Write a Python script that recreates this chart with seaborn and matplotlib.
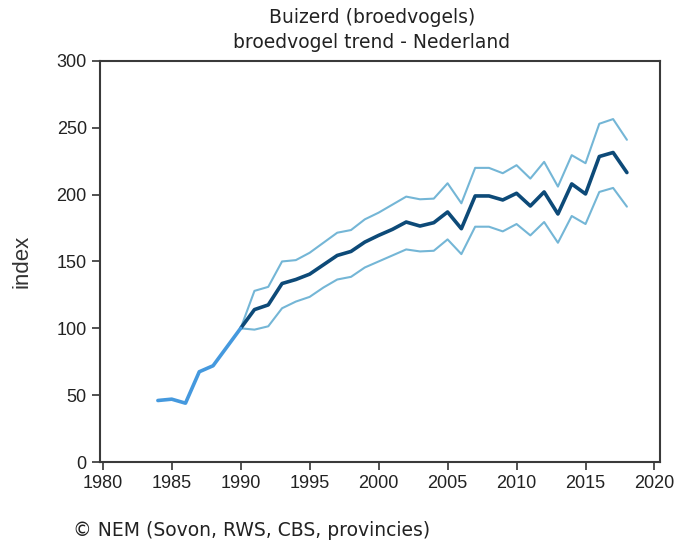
import numpy as np
import pandas as pd
import seaborn as sns
import matplotlib.pyplot as plt

# Vroege jaren (alleen index, geen betrouwbaarheidsband)
early_years = [1984, 1985, 1986, 1987, 1988, 1989, 1990]
early_index = [46, 47, 44, 67.5, 72, 86, 100]

# Trend vanaf 1990
years = list(range(1990, 2019))
index = [100, 114, 117.5, 133.5, 136.5, 140.5, 147.5, 154.5, 157.5, 164.5, 169.5,
         174, 179.5, 176.5, 179, 187, 174.5, 199, 199, 196, 201, 191.5, 202,
         185.5, 208, 200.5, 228.5, 231.5, 216.5]
upper = [100, 128, 131, 150, 151, 156.5, 164, 171.5, 173.5, 181.5, 186.5,
         192.5, 198.5, 196.5, 197, 208.5, 193.5, 220, 220, 216, 222, 212, 224.5,
         206, 229.5, 223.5, 253, 256.5, 241]
lower = [100, 99, 101.5, 115, 120, 123.5, 130.5, 136.5, 138.5, 145.5, 150,
         154.5, 159, 157.5, 158, 166.5, 155.5, 176, 176, 172.5, 178, 169.5, 179.5,
         164, 184, 178, 202, 205, 191]

df = pd.DataFrame({'jaar': years, 'index': index, 'boven': upper, 'onder': lower})
df_early = pd.DataFrame({'jaar': early_years, 'index': early_index})

sns.set_style('white')
plt.rcParams['font.family'] = ['Liberation Sans', 'DejaVu Sans']

fig = plt.figure(figsize=(6.8, 5.42), dpi=100)
ax = fig.add_axes([0.147, 0.1476, 0.8236, 0.74])

light = '#74b6d6'
dark = '#0d4a78'
mid = '#4599de'

sns.lineplot(data=df, x='jaar', y='boven', ax=ax, color=light, linewidth=1.5)
sns.lineplot(data=df, x='jaar', y='onder', ax=ax, color=light, linewidth=1.5)
sns.lineplot(data=df, x='jaar', y='index', ax=ax, color=dark, linewidth=2.6)
sns.lineplot(data=df_early, x='jaar', y='index', ax=ax, color=mid, linewidth=2.6)

ax.set_xlim(1979.8, 2020.4)
ax.set_ylim(0, 300)
ax.set_xticks(range(1980, 2021, 5))
ax.set_yticks(range(0, 301, 50))
ax.set_xlabel('')
ax.set_ylabel('index', fontsize=16, color='#333333', labelpad=17)
ax.tick_params(axis='both', which='both', direction='out', length=6, width=1.2,
               labelsize=13, color='#333333', labelcolor='#222222',
               bottom=True, left=True, top=False, right=False)
for sp in ax.spines.values():
    sp.set_color('#3a3a3a')
    sp.set_linewidth(1.5)

tfont = ['DejaVu Sans']
fig.text(0.547, 0.967, 'Buizerd (broedvogels)', ha='center', va='center',
         fontsize=13.5, color='#222222', family=tfont)
fig.text(0.547, 0.922, 'broedvogel trend - Nederland', ha='center', va='center',
         fontsize=13.5, color='#222222', family=tfont)
fig.text(0.107, 0.022, '© NEM (Sovon, RWS, CBS, provincies)', ha='left', va='center',
         fontsize=13.5, color='#222222', family=tfont)

fig.savefig('out.png', dpi=100)
